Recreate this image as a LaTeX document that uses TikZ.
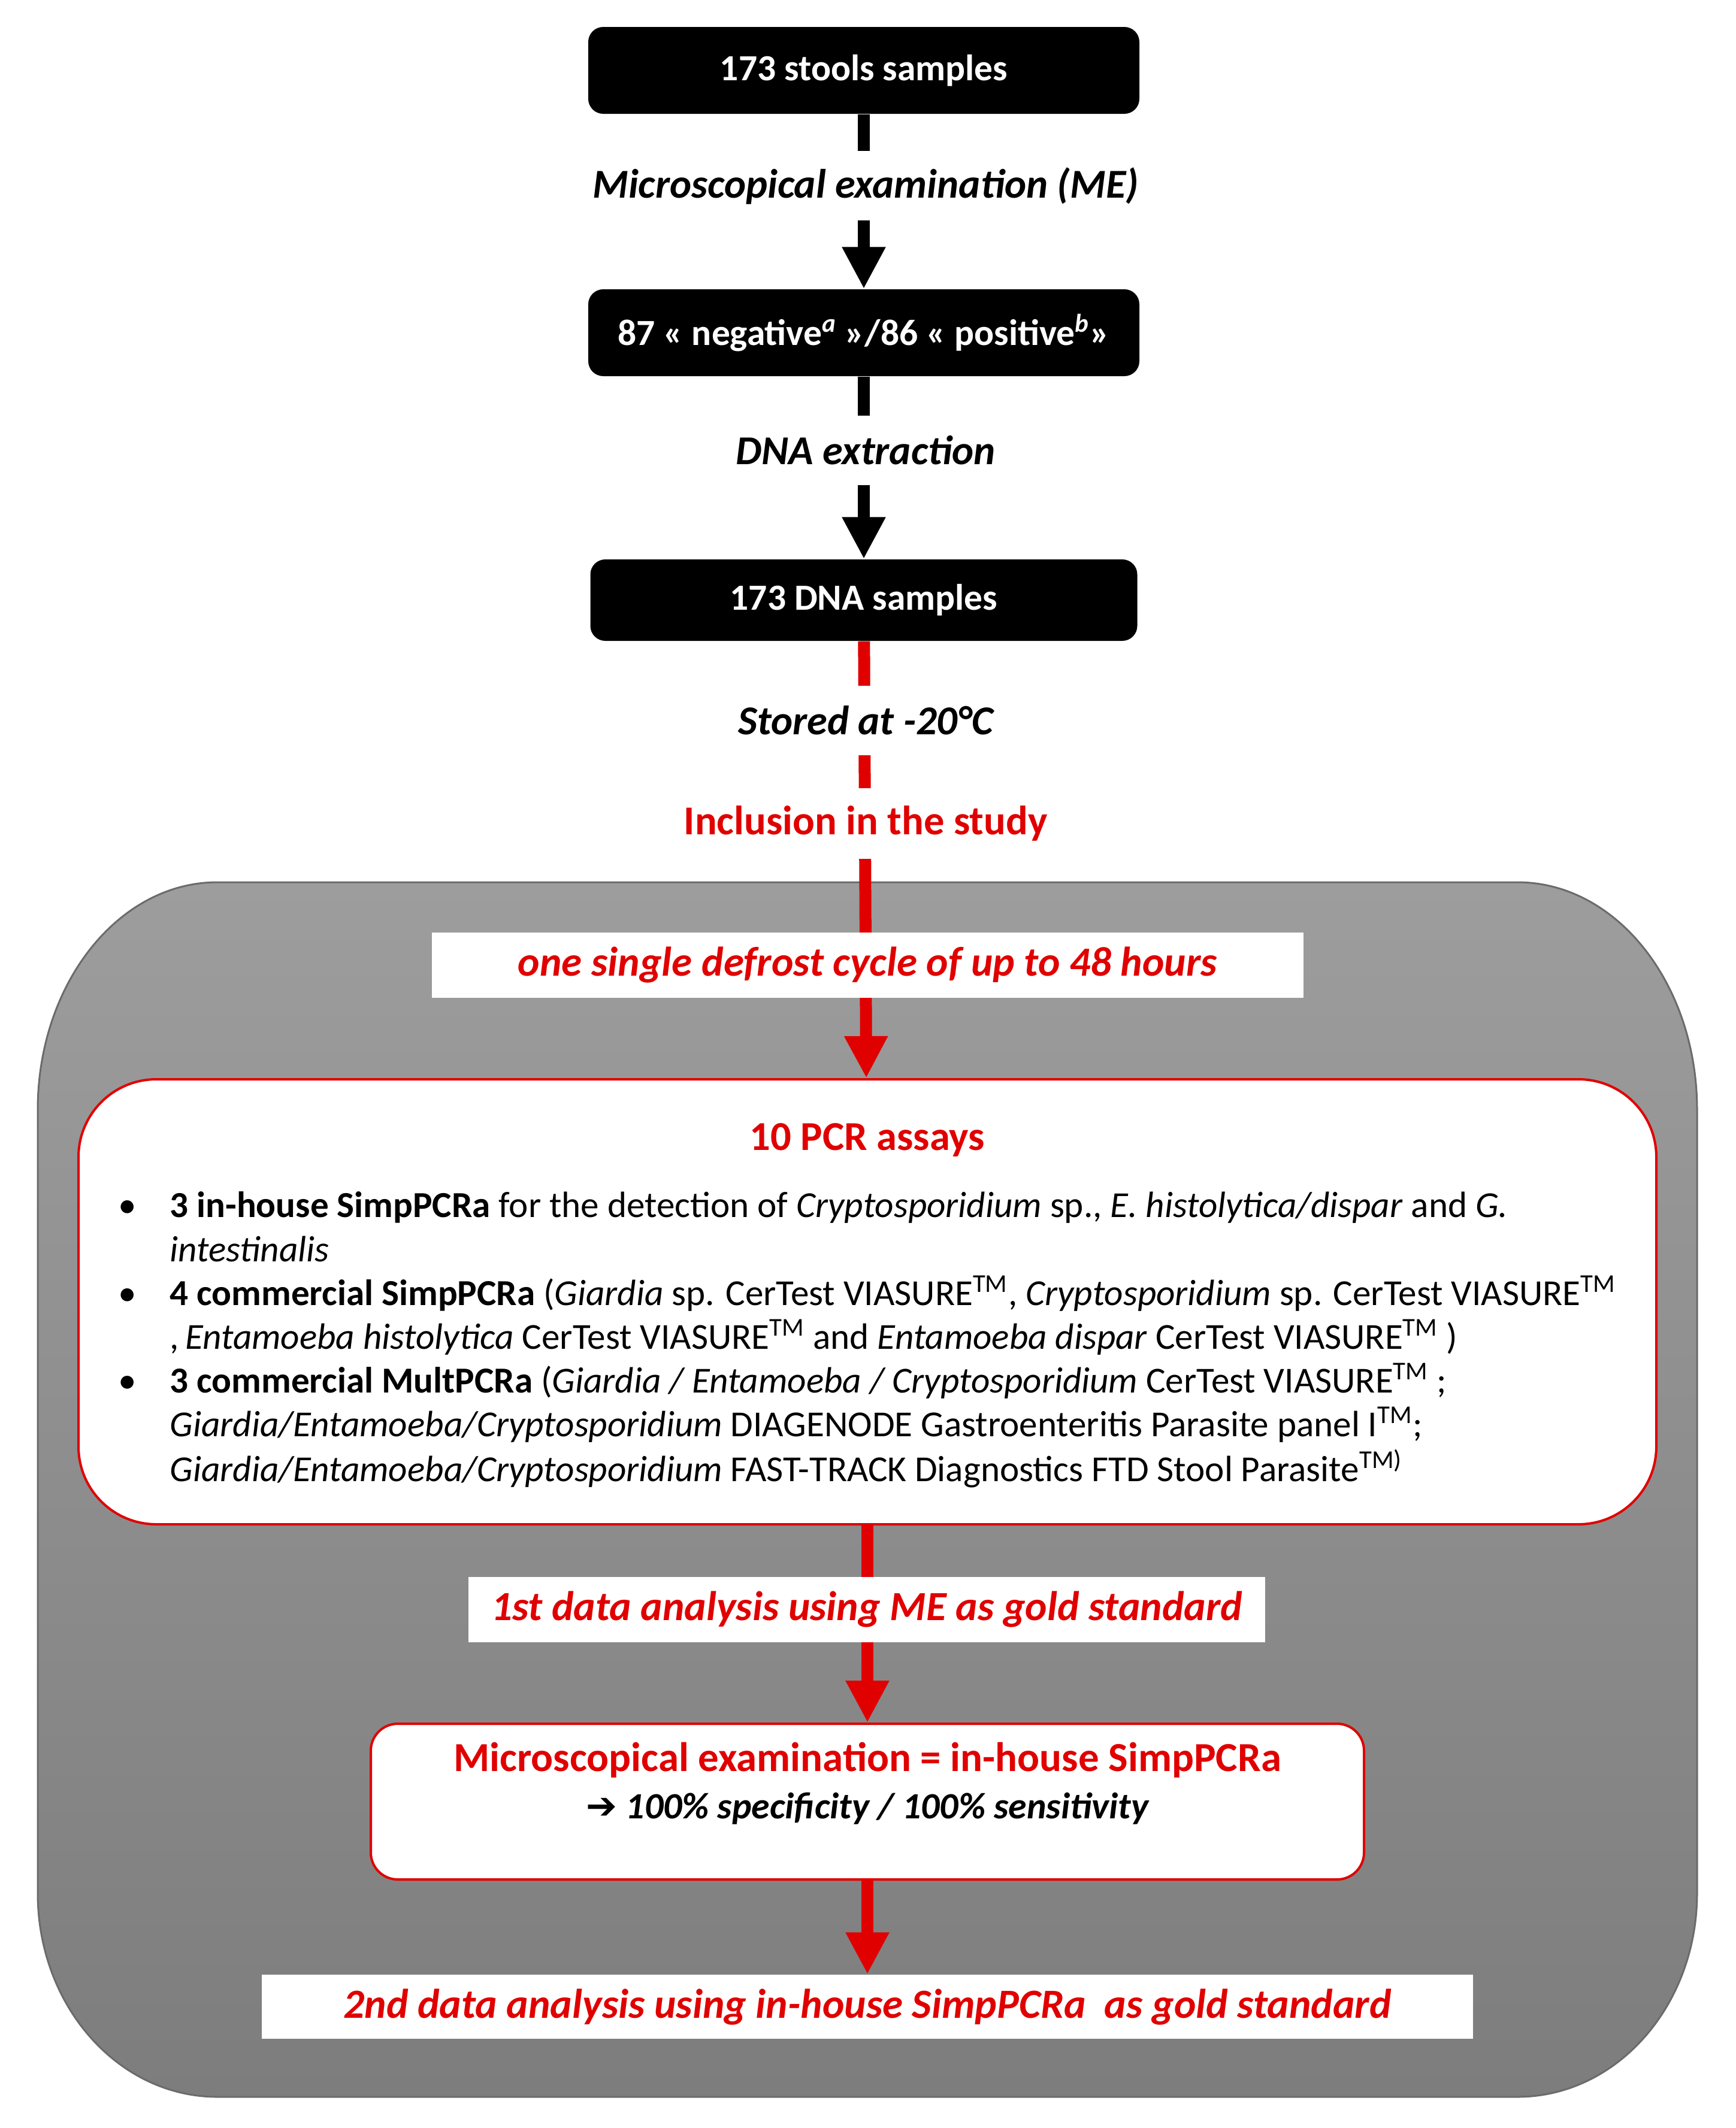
\documentclass[tikz,border=0pt]{standalone}
\usepackage{fontspec}
\setmainfont{Carlito}
\newfontfamily\symfont{DejaVu Sans}
\usetikzlibrary{arrows.meta}
\definecolor{fc01}{HTML}{E00000}
\definecolor{fc02}{HTML}{9D9D9D}
\definecolor{fc03}{HTML}{7D7D7D}
\definecolor{fc04}{HTML}{6B6B6B}
\newcommand{\tmark}{\textsuperscript{TM}}
\tikzset{
  blackbox/.style={rectangle, rounded corners=0.25cm, fill=black, text=white,
    font=\fontsize{17.5}{20}\selectfont\bfseries, minimum width=9.2cm, minimum height=1.45cm},
  steplabel/.style={fill=white, font=\fontsize{19.5}{23}\selectfont\bfseries\itshape,
    minimum height=1.16cm, inner xsep=0.1cm},
  whitebox/.style={rectangle, fill=white, text=fc01,
    font=\fontsize{19.7}{23}\selectfont\bfseries\itshape, minimum height=1.09cm},
  redbox/.style={rectangle, draw=fc01, line width=0.04cm, fill=white},
  blackarrow/.style={line width=0.2cm, -{Triangle[length=0.7cm,width=0.68cm]}},
  redarrow/.style={blackarrow, fc01}
}
\begin{document}
\begin{tikzpicture}
  \useasboundingbox (0,0) rectangle (28.98,-35.53);
  % grey frame round the study part
  \path[top color=fc02, bottom color=fc03, draw=fc04, line width=0.03cm]
    (3.63,-14.73) -- (25.33,-14.73)
    arc[start angle=90, end angle=0, x radius=3.0, y radius=3.8] -- (28.33,-31.61)
    arc[start angle=0, end angle=-90, x radius=3.0, y radius=3.4] -- (3.63,-35.01)
    arc[start angle=270, end angle=180, x radius=3.0, y radius=3.4] -- (0.63,-18.53)
    arc[start angle=180, end angle=90, x radius=3.0, y radius=3.8] -- cycle;

  \node[blackbox] (stools) at (14.42,-1.175) {173 stools samples};
  \node[blackbox] (posneg) at (14.42,-5.555) {87 « negative\textsuperscript{\itshape a} »/86 « positive\textsuperscript{\itshape b}»};
  \node[blackbox, minimum width=9.13cm, minimum height=1.36cm] (dna) at (14.42,-10.02) {173 DNA samples};
  \node[redbox, rounded corners=1.3cm, minimum width=26.34cm, minimum height=7.43cm] (pcr) at (14.48,-21.735) {};
  \node[redbox, rounded corners=0.45cm, minimum width=16.58cm, minimum height=2.6cm] (micro) at (14.48,-30.08) {};
  \node[whitebox, minimum width=20.22cm, minimum height=1.07cm] (second) at (14.48,-33.505)
    {2nd data analysis using in-house SimpPCRa~ as gold standard};

  \draw[blackarrow] (stools) -- (posneg);
  \draw[blackarrow] (posneg) -- (dna);
  \draw[redarrow] (dna) -- (pcr);
  \draw[redarrow] (pcr) -- (micro);
  \draw[redarrow] (micro) -- (second);

  \node[steplabel] (me) at (14.45,-3.10) {Microscopical examination (ME)};
  \node[steplabel] (extract) at (14.45,-7.52) {DNA extraction};
  \node[steplabel] (stored) at (14.45,-12.03) {Stored at -20°C};
  \node[steplabel, text=fc01, font=\fontsize{19.5}{23}\selectfont\bfseries, minimum height=1.18cm] (incl) at (14.45,-13.75) {Inclusion in the study};
  \node[whitebox, minimum width=14.55cm] (defrost) at (14.485,-16.115) {one single defrost cycle of up to 48 hours};
  \node[whitebox, minimum width=13.3cm] (first) at (14.47,-26.875) {1st data analysis using ME as gold standard};

  \node[text=fc01, font=\fontsize{19.5}{23}\selectfont\bfseries] (pcrtitle) at (14.48,-19.03) {10 PCR assays};
  \node[anchor=north west, inner sep=0pt, font=\fontsize{17.4}{20.8}\selectfont] (assays) at (1.97,-19.81) {%
    \begin{tabular}{@{}p{0.86cm}@{}l@{}}
    \textbullet & \textbf{3 in-house SimpPCRa} for the detection of \textit{Cryptosporidium} sp., \textit{E. histolytica/dispar} and \textit{G.}\\
     & \textit{intestinalis}\\
    \textbullet & \textbf{4 commercial SimpPCRa} (\textit{Giardia} sp. CerTest VIASURE\tmark, \textit{Cryptosporidium} sp. CerTest VIASURE\tmark\\
     & ,\,\textit{Entamoeba histolytica} CerTest VIASURE\tmark{} and \textit{Entamoeba dispar} CerTest VIASURE\tmark{} )\\
    \textbullet & \textbf{3 commercial MultPCRa} (\textit{Giardia / Entamoeba / Cryptosporidium} CerTest VIASURE\tmark{} ;\\
     & \textit{Giardia/Entamoeba/Cryptosporidium} DIAGENODE Gastroenteritis Parasite panel I\tmark;\\
     & \textit{Giardia/Entamoeba/Cryptosporidium} FAST-TRACK Diagnostics FTD Stool Parasite\textsuperscript{TM)}
    \end{tabular}};
  \node[align=center, font=\fontsize{19.6}{22.5}\selectfont] (microtxt) at (14.48,-29.78)
    {\textcolor{fc01}{\bfseries Microscopical examination = in-house SimpPCRa}\\
     {\fontsize{17.6}{20}\selectfont\bfseries\itshape{\symfont ➔} 100\% specificity / 100\% sensitivity}};
\end{tikzpicture}
\end{document}
